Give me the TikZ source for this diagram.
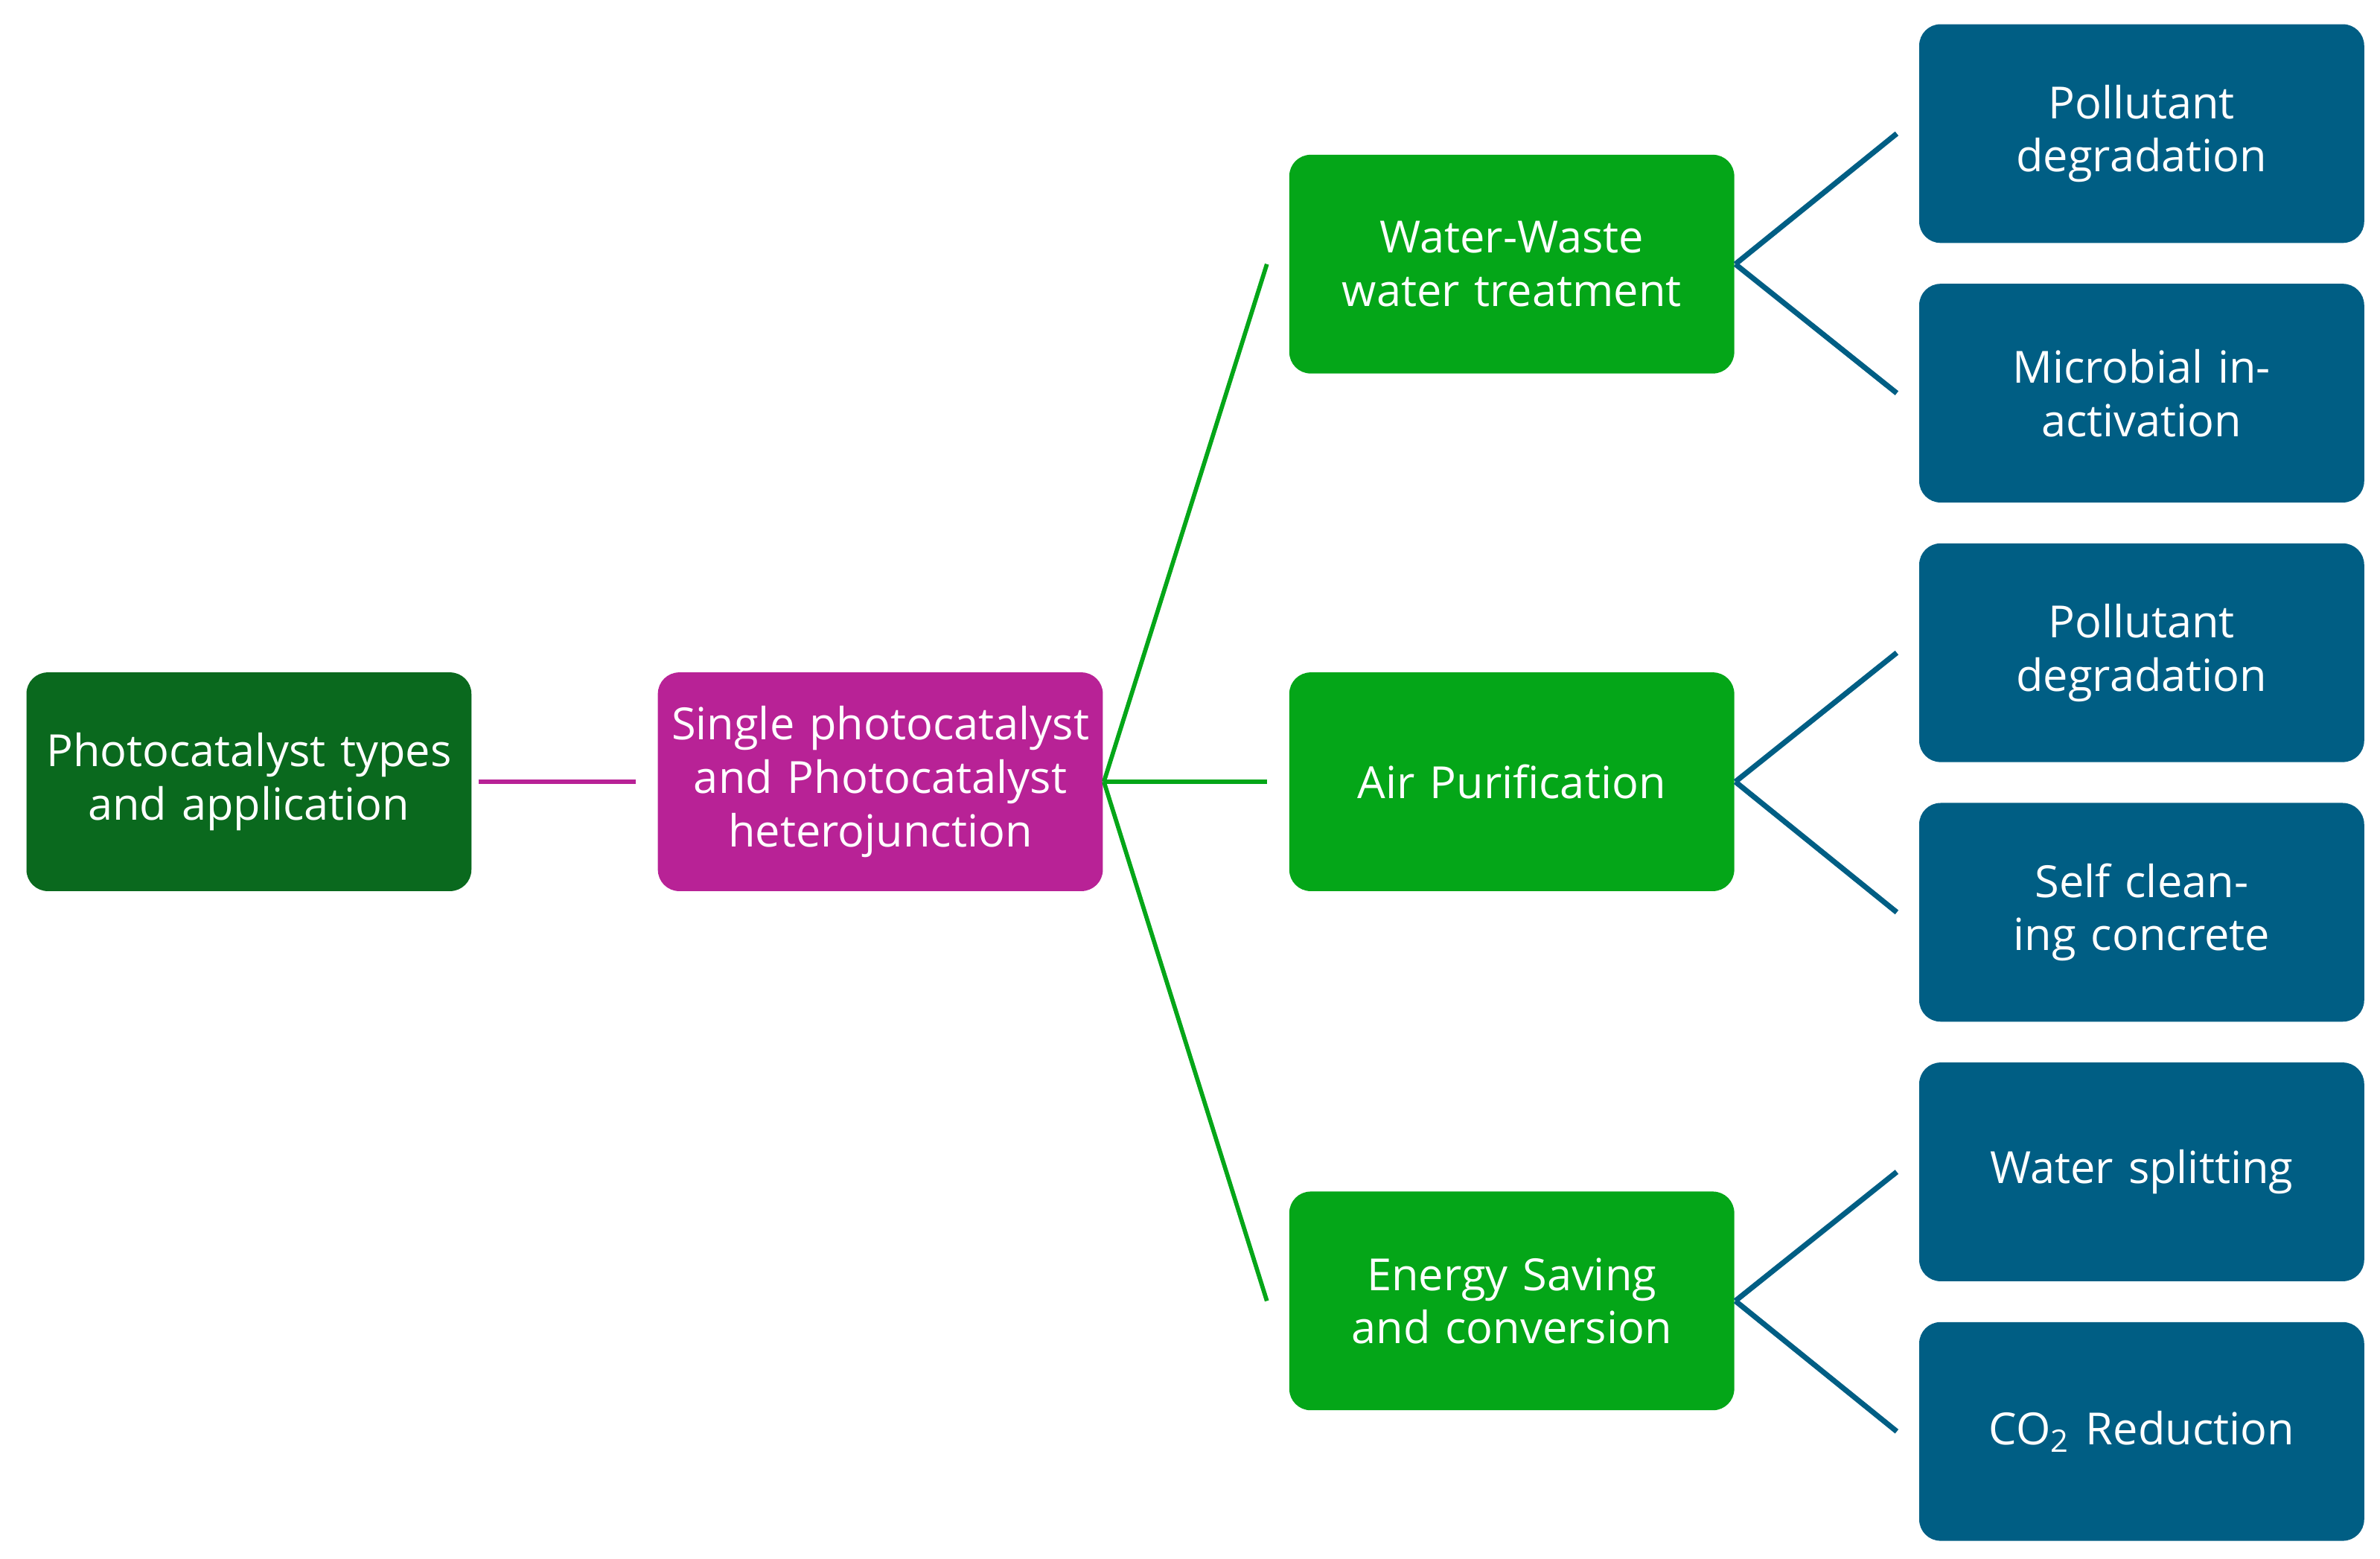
\documentclass[tikz,border=0pt]{standalone}
\usepackage{fontspec}
\setmainfont{Open Sans}
\definecolor{dg}{RGB}{10,105,30}
\definecolor{mg}{RGB}{184,34,150}
\definecolor{gr}{RGB}{4,166,24}
\definecolor{bl}{RGB}{0,94,132}
\begin{document}
\begin{tikzpicture}[x=0.01cm,y=-0.01cm,
 box/.style={rounded corners=4pt,minimum width=2.93cm,minimum height=1.44cm,text width=2.8cm,align=center,text=white,font=\fontsize{8.3}{10}\selectfont,inner sep=0pt},
 d/.style={box,fill=dg},m/.style={box,fill=mg},g/.style={box,fill=gr},b/.style={box,fill=bl},
 lm/.style={mg,line width=0.8pt},lg/.style={gr,line width=0.8pt},lb/.style={bl,line width=1pt}]
\useasboundingbox (0,0) rectangle (1568,1027);
\node[d] (a) at (164,515) {Photocatalyst types and application};
\node[m] (s) at (580,515) {Single photocatalyst and Photocatalyst heterojunction};
\node[g] (w) at (996,174) {Water-Waste water treatment};
\node[g] (p) at (996,515) {Air Purification};
\node[g] (e) at (996,857) {Energy Saving and conversion};
\node[b] (b1) at (1411,88) {Pollutant degradation};
\node[b] (b2) at (1411,259) {Microbial inactivation};
\node[b] (b3) at (1411,430) {Pollutant degradation};
\node[b] (b4) at (1411,601) {Self cleaning concrete};
\node[b] (b5) at (1411,772) {Water splitting};
\node[b] (b6) at (1411,943) {CO\textsubscript{2} Reduction};
\draw[lm] (a.east) ++(4,0) -- ([xshift=-4]s.west);
\foreach \t in {w,p,e} \draw[lg] (s.east) -- ([xshift=-4]\t.west);
\foreach \f/\t in {w/b1,w/b2,p/b3,p/b4,e/b5,e/b6} \draw[lb] (\f.east) -- ([xshift=-4]\t.west);
\end{tikzpicture}
\end{document}
